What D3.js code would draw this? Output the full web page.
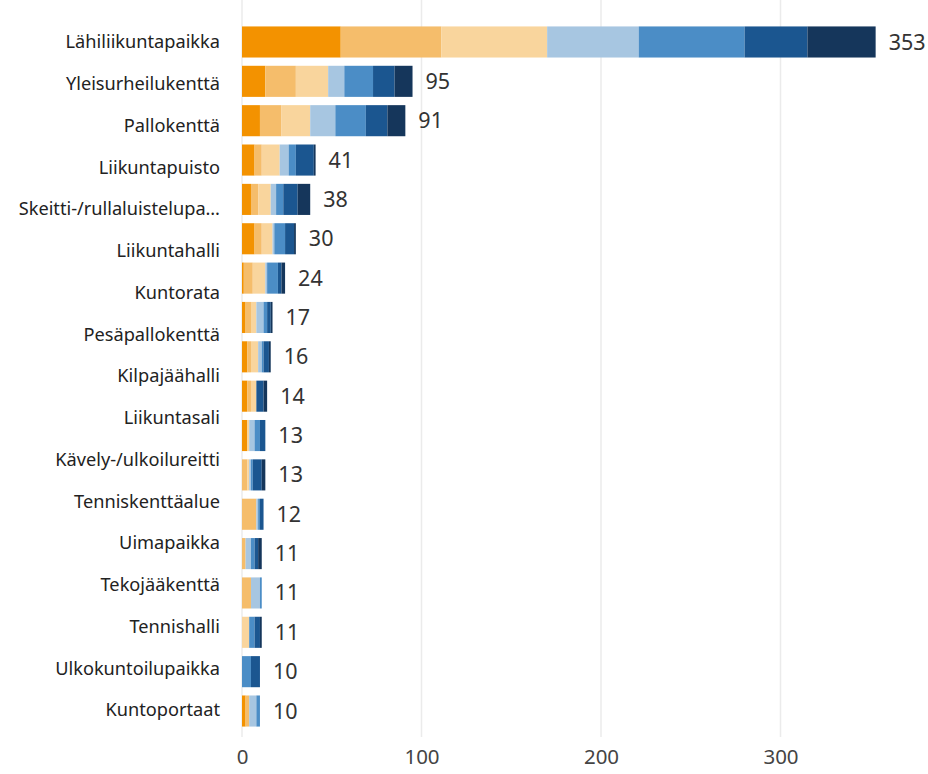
<!DOCTYPE html>
<html>
<head>
<meta charset="utf-8">
<script src="https://cdn.jsdelivr.net/npm/d3@7"></script>
<style>
  body { margin: 0; background: #fff; }
  text { font-family: "Noto Sans", "Open Sans", sans-serif; }
  .cat { font-size: 18.2px; fill: #222; }
  .total { font-size: 21.5px; fill: #333; }
  .tick text { font-size: 20.5px; fill: #444; }
  .grid { stroke: #ebebeb; stroke-width: 1.5; }
</style>
</head>
<body>
<svg id="chart"></svg>
<script>
var width = 928,
    height = 774;

// category labels on the left (17 labels as in the picture)
var categories = ["Lähiliikuntapaikka", "Yleisurheilukenttä", "Pallokenttä", "Liikuntapuisto",
  "Skeitti-/rullaluistelupa…", "Liikuntahalli", "Kuntorata", "Pesäpallokenttä", "Kilpajäähalli",
  "Liikuntasali", "Kävely-/ulkoilureitti", "Tenniskenttäalue", "Uimapaikka", "Tekojääkenttä",
  "Tennishalli", "Ulkokuntoilupaikka", "Kuntoportaat"];

// stacked segments, one array per colour, one value per bar (18 bars)
var s1 = [55, 13, 10, 7, 5, 7, 1, 2, 3, 3, 3, 0, 0, 0, 0, 0, 0, 2];
var s2 = [56, 17, 12, 4, 4, 4, 5, 3, 2, 2, 0, 3, 8, 2, 5, 0, 0, 2];
var s3 = [59, 18, 16, 10, 7, 6, 7, 3, 4, 3, 1, 1, 0, 0, 0, 4, 0, 0];
var s4 = [51, 9, 14, 5, 3, 1, 1, 4, 2, 0, 3, 1, 1, 3, 5, 0, 0, 4];
var s5 = [59, 16, 17, 4, 4, 6, 6, 2, 1, 0, 3, 1, 1, 2, 1, 3, 5, 2];
var s6 = [35, 12, 12, 10, 8, 5, 2, 2, 3, 4, 3, 5, 2, 2, 0, 3, 5, 0];
var s7 = [38, 10, 10, 1, 7, 1, 2, 1, 1, 2, 0, 2, 0, 2, 0, 1, 0, 0];

var series = [s1, s2, s3, s4, s5, s6, s7];
var colors = ["#f39200", "#f5bd6b", "#f9d59d", "#a7c6e1", "#4b8dc6", "#1b5690", "#15365b"];
var xTicks = [0, 100, 200, 300];

var rows = d3.range(s1.length).map(function(i) {
  var r = { idx: i };
  series.forEach(function(s, k) { r["k" + k] = s[i]; });
  r.total = d3.sum(series, function(s) { return s[i]; });
  return r;
});

var keys = series.map(function(s, k) { return "k" + k; });
var stacked = d3.stack().keys(keys)(rows);

var x = d3.scaleLinear()
          .domain([0, 100])
          .range([242, 421.5]);

var y = d3.scaleBand()
          .domain(d3.range(rows.length))
          .range([22.3, 730.7])
          .paddingInner(0.21)
          .paddingOuter(0.105);

var yLab = d3.scalePoint()
          .domain(categories)
          .range([42, 710]);

var chart = d3.select("#chart")
              .attr("width", width)
              .attr("height", height);

// gridlines
chart.selectAll("line.grid")
     .data(xTicks)
     .enter().append("line")
       .attr("class", "grid")
       .attr("x1", function(d) { return x(d); })
       .attr("x2", function(d) { return x(d); })
       .attr("y1", 0)
       .attr("y2", 737);

// bars
chart.selectAll("g.layer")
     .data(stacked)
     .enter().append("g")
       .attr("class", "layer")
       .attr("fill", function(d, i) { return colors[i]; })
     .selectAll("rect")
     .data(function(d) { return d; })
     .enter().append("rect")
       .attr("x", function(d) { return x(d[0]); })
       .attr("y", function(d) { return y(d.data.idx); })
       .attr("width", function(d) { return x(d[1]) - x(d[0]); })
       .attr("height", y.bandwidth());

// totals
chart.selectAll("text.total")
     .data(rows)
     .enter().append("text")
       .attr("class", "total")
       .attr("x", function(d) { return x(d.total) + 13; })
       .attr("y", function(d) { return y(d.idx) + y.bandwidth() / 2; })
       .attr("dy", "0.35em")
       .text(function(d) { return d.total; });

// category labels
chart.selectAll("text.cat")
     .data(categories)
     .enter().append("text")
       .attr("class", "cat")
       .attr("x", 220)
       .attr("y", function(d) { return yLab(d); })
       .attr("dy", "0.35em")
       .attr("text-anchor", "end")
       .text(function(d) { return d; });

// x axis labels
var axis = chart.append("g")
     .attr("transform", "translate(0,757)")
     .call(d3.axisBottom(x).tickValues(xTicks).tickSize(0).tickPadding(0));
axis.select(".domain").remove();
axis.selectAll("text").attr("dy", "0.35em");
</script>
</body>
</html>
